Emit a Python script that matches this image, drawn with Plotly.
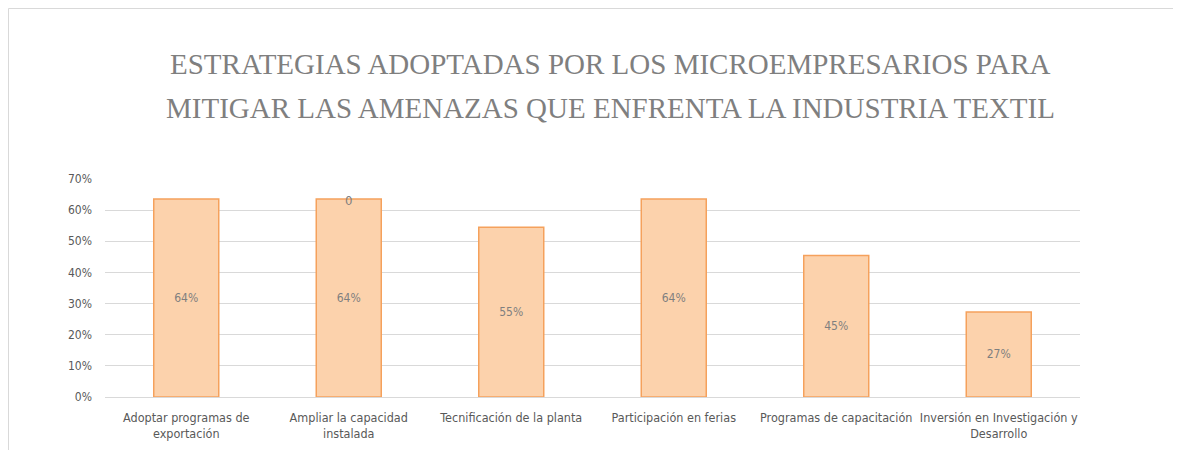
import plotly.graph_objects as go

categories = [
    "Adoptar programas de<br>exportación",
    "Ampliar la capacidad<br>instalada",
    "Tecnificación de la planta",
    "Participación en ferias",
    "Programas de capacitación",
    "Inversión en Investigación y<br>Desarrollo",
]
values = [0.636, 0.636, 0.545, 0.636, 0.4545, 0.273]
extra_label_index = 1
extra_label_text = "0"
title_lines = [
    "ESTRATEGIAS ADOPTADAS POR LOS MICROEMPRESARIOS PARA",
    "MITIGAR LAS AMENAZAS QUE ENFRENTA LA INDUSTRIA TEXTIL",
]

OFF = 8  # page body margin (figure starts at page x=8, y=8)
W, H = 1181 - OFF, 450 - OFF
ML, MR, MT, MB = 105 - OFF, 101, 179 - OFF, 53
pw = W - ML - MR
ph = H - MT - MB

def px_x(p):
    return (p - OFF - ML) / pw

def px_y(p):
    return (H - MB - (p - OFF)) / ph

label_font = "Liberation Sans Narrow, DejaVu Sans Condensed, Arial Narrow, sans-serif"

fig = go.Figure()
fig.add_trace(go.Bar(
    x=categories,
    y=values,
    marker=dict(color="#fcd2ac", line=dict(color="#f5a15c", width=1.5)),
    texttemplate="%{y:.0%}",
    textposition="inside",
    insidetextanchor="middle",
    textfont=dict(family=label_font, size=12, color="#7f7f7f"),
    hoverinfo="skip",
))

annotations = [
    dict(x=categories[extra_label_index], y=values[extra_label_index],
         xref="x", yref="y", text=extra_label_text, showarrow=False,
         yanchor="middle", yshift=-2,
         font=dict(family=label_font, size=13, color="#7f7f7f")),
]
for line, py in zip(title_lines, [64, 108]):
    annotations.append(dict(
        x=px_x(610), y=px_y(py), xref="paper", yref="paper",
        text=line, showarrow=False, xanchor="center", yanchor="middle",
        font=dict(family="Liberation Serif, Times New Roman, serif", size=29, color="#7f7f7f"),
    ))

shapes = [
    dict(type="line", xref="paper", yref="paper",
         x0=px_x(8.5), x1=px_x(8.5), y0=px_y(470), y1=px_y(8.5),
         line=dict(color="#d9d9d9", width=1)),
    dict(type="line", xref="paper", yref="paper",
         x0=px_x(8.5), x1=px_x(1200), y0=px_y(8.5), y1=px_y(8.5),
         line=dict(color="#d9d9d9", width=1)),
]

fig.update_layout(
    width=W, height=H,
    margin=dict(l=ML, r=MR, t=MT, b=MB, autoexpand=False),
    paper_bgcolor="white",
    plot_bgcolor="white",
    bargap=0.6,
    showlegend=False,
    annotations=annotations,
    shapes=shapes,
    font=dict(family=label_font, size=12, color="#595959"),
)
fig.update_yaxes(
    range=[0, 0.7], dtick=0.1, tickformat=".0%",
    showgrid=True, gridcolor="#d9d9d9", gridwidth=1,
    zeroline=False, showline=False, ticks="",
    ticklabelstandoff=12, automargin=False,
    tickfont=dict(family=label_font, size=12, color="#595959"),
)
fig.update_xaxes(
    showgrid=False, showline=True, linecolor="#d9d9d9", linewidth=1,
    ticks="", ticklabelstandoff=9, automargin=False, tickangle=0,
    tickfont=dict(family=label_font, size=12.5, color="#595959"),
)

fig.write_html("out.html")
